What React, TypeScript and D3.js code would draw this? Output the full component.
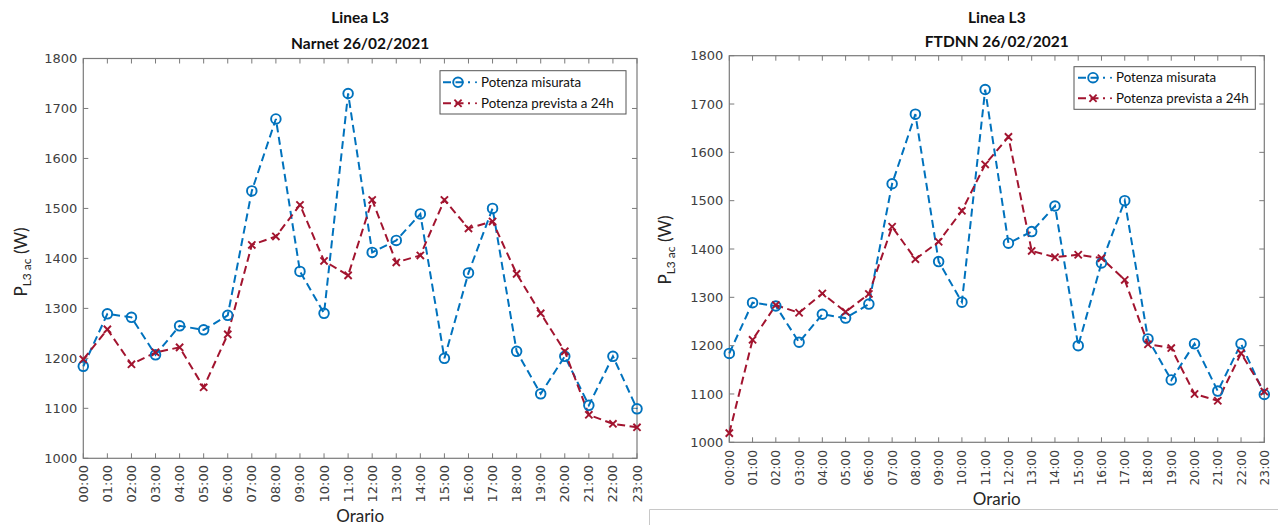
import React from "react";
import * as d3 from "d3";

const hours = ["00:00","01:00","02:00","03:00","04:00","05:00","06:00","07:00","08:00","09:00","10:00","11:00","12:00","13:00","14:00","15:00","16:00","17:00","18:00","19:00","20:00","21:00","22:00","23:00"];
const measured = [1184,1289,1282,1207,1265,1257,1286,1535,1679,1374,1290,1730,1412,1436,1489,1200,1371,1500,1214,1129,1204,1106,1204,1099];
const narnetForecast = [1198,1258,1188,1212,1222,1142,1248,1427,1444,1507,1395,1366,1517,1392,1406,1517,1460,1474,1369,1290,1214,1087,1069,1062];
const ftdnnForecast = [1019,1212,1284,1268,1308,1270,1307,1446,1379,1415,1479,1575,1632,1396,1383,1388,1381,1336,1203,1195,1100,1086,1184,1105];
const yTicks = [1000,1100,1200,1300,1400,1500,1600,1700,1800];
const legendLabels = ["Potenza misurata", "Potenza prevista a 24h"];
const titleLine1 = "Linea L3";

const BLUE = "#0072BD";
const RED = "#A2142F";
const AXIS = "#7a7a7a";
const TICKTXT = "#404040";
const TICKFONT = "'DejaVu Sans', sans-serif";
const LABFONT = "Lato, 'Open Sans', sans-serif";

type PanelProps = {
  x0: number; x1: number; yTop: number; yBot: number;
  title2: string; forecast: number[];
  legend: { x: number; y: number; w: number; h: number; row1: number; row2: number; mx: number };
  tickLabY: number; xLabY: number; yLabX: number; yLabY: number;
  t1Y: number; t2Y: number; xTickFont: number;
};

function CircleMarker({ x, y }: { x: number; y: number }) {
  return <circle cx={x} cy={y} r={4.8} fill="none" stroke={BLUE} strokeWidth={1.9} />;
}
function XMarker({ x, y }: { x: number; y: number }) {
  const s = 3.6;
  return (
    <g stroke={RED} strokeWidth={1.9}>
      <line x1={x - s} y1={y - s} x2={x + s} y2={y + s} />
      <line x1={x - s} y1={y + s} x2={x + s} y2={y - s} />
    </g>
  );
}

function Panel(p: PanelProps) {
  const x = d3.scaleLinear().domain([0, hours.length - 1]).range([p.x0, p.x1]);
  const y = d3.scaleLinear().domain([1000, 1800]).range([p.yBot, p.yTop]);
  const line = d3.line<number>().x((_, i) => x(i)).y((d) => y(d));
  const cx = (p.x0 + p.x1) / 2;
  const tl = 5;
  const L = p.legend;
  return (
    <g>
      <text x={cx} y={p.t1Y} textAnchor="middle" fontFamily={LABFONT} fontWeight="bold" fontSize={15.5} fill="#111">{titleLine1}</text>
      <text x={cx} y={p.t2Y} textAnchor="middle" fontFamily={LABFONT} fontWeight="bold" fontSize={15.5} fill="#111">{p.title2}</text>
      {/* axes box */}
      <rect x={p.x0} y={p.yTop} width={p.x1 - p.x0} height={p.yBot - p.yTop} fill="white" stroke={AXIS} strokeWidth={1.2} />
      {/* x ticks */}
      {hours.map((h, i) => (
        <g key={h}>
          <line x1={x(i)} x2={x(i)} y1={p.yBot} y2={p.yBot - tl} stroke={AXIS} />
          <line x1={x(i)} x2={x(i)} y1={p.yTop} y2={p.yTop + tl} stroke={AXIS} />
          <text transform={`translate(${x(i) + 4.5},${p.tickLabY}) rotate(-90)`} textAnchor="end" fontFamily={TICKFONT} fontSize={p.xTickFont} fill={TICKTXT}>{h}</text>
        </g>
      ))}
      {yTicks.map((t) => (
        <g key={t}>
          <line x1={p.x0} x2={p.x0 + tl} y1={y(t)} y2={y(t)} stroke={AXIS} />
          <line x1={p.x1} x2={p.x1 - tl} y1={y(t)} y2={y(t)} stroke={AXIS} />
          <text x={p.x0 - 6} y={y(t) + 4.7} textAnchor="end" fontFamily={TICKFONT} fontSize={13} fill={TICKTXT}>{t}</text>
        </g>
      ))}
      {/* axis labels */}
      <text x={cx} y={p.xLabY} textAnchor="middle" fontFamily={LABFONT} fontSize={17} fill="#262626">Orario</text>
      <text transform={`translate(${p.yLabX},${p.yLabY}) rotate(-90)`} textAnchor="middle" fontFamily={LABFONT} fontSize={17} fill="#262626">
        P<tspan fontSize={12} dy={4}>L3 ac</tspan><tspan dy={-4}> (W)</tspan>
      </text>
      {/* series */}
      <path d={line(measured) || ""} fill="none" stroke={BLUE} strokeWidth={2} strokeDasharray="8,4.5" />
      <path d={line(p.forecast) || ""} fill="none" stroke={RED} strokeWidth={2} strokeDasharray="8,4.5" />
      {measured.map((v, i) => <CircleMarker key={"m" + i} x={x(i)} y={y(v)} />)}
      {p.forecast.map((v, i) => <XMarker key={"f" + i} x={x(i)} y={y(v)} />)}
      {/* legend */}
      <rect x={L.x} y={L.y} width={L.w} height={L.h} fill="white" stroke="#555" strokeWidth={1} />
      {[L.row1, L.row2].map((ry, k) => (
        <g key={k}>
          <line x1={L.mx - 15} x2={L.mx + 12} y1={ry} y2={ry} stroke={k === 0 ? BLUE : RED} strokeWidth={2} strokeDasharray="8,4.5" />
          {k === 0 ? <CircleMarker x={L.mx} y={ry} /> : <XMarker x={L.mx} y={ry} />}
          <circle cx={L.mx + 18} cy={ry} r={1} fill={k === 0 ? BLUE : RED} />
          <text x={L.mx + 23} y={ry + 4.6} fontFamily={LABFONT} fontSize={13.3} fill="#111">{legendLabels[k]}</text>
        </g>
      ))}
    </g>
  );
}

export default function App() {
  return (
    <svg width={1278} height={525} style={{ position: "absolute", left: 0, top: 0, background: "white" }}>
      <rect x={0} y={0} width={1278} height={525} fill="white" />
      <Panel x0={83.3} x1={637} yTop={58.5} yBot={458.3} title2="Narnet 26/02/2021" forecast={narnetForecast}
        legend={{ x: 440, y: 70.7, w: 186, h: 43.3, row1: 82.3, row2: 103.3, mx: 458 }}
        tickLabY={465} xLabY={522} yLabX={27} yLabY={262} t1Y={22.5} t2Y={48.5} xTickFont={13} />
      <Panel x0={729.3} x1={1264.3} yTop={55.7} yBot={442.3} title2="FTDNN 26/02/2021" forecast={ftdnnForecast}
        legend={{ x: 1074, y: 66.7, w: 181.3, h: 42.6, row1: 77.7, row2: 98.3, mx: 1093 }}
        tickLabY={450} xLabY={504.5} yLabX={671} yLabY={250} t1Y={22.5} t2Y={46.5} xTickFont={12.3} />
      <path d="M649.5,525 L649.5,509.5 L1278,509.5" fill="none" stroke="#c8c8c8" strokeWidth={1} />
    </svg>
  );
}
